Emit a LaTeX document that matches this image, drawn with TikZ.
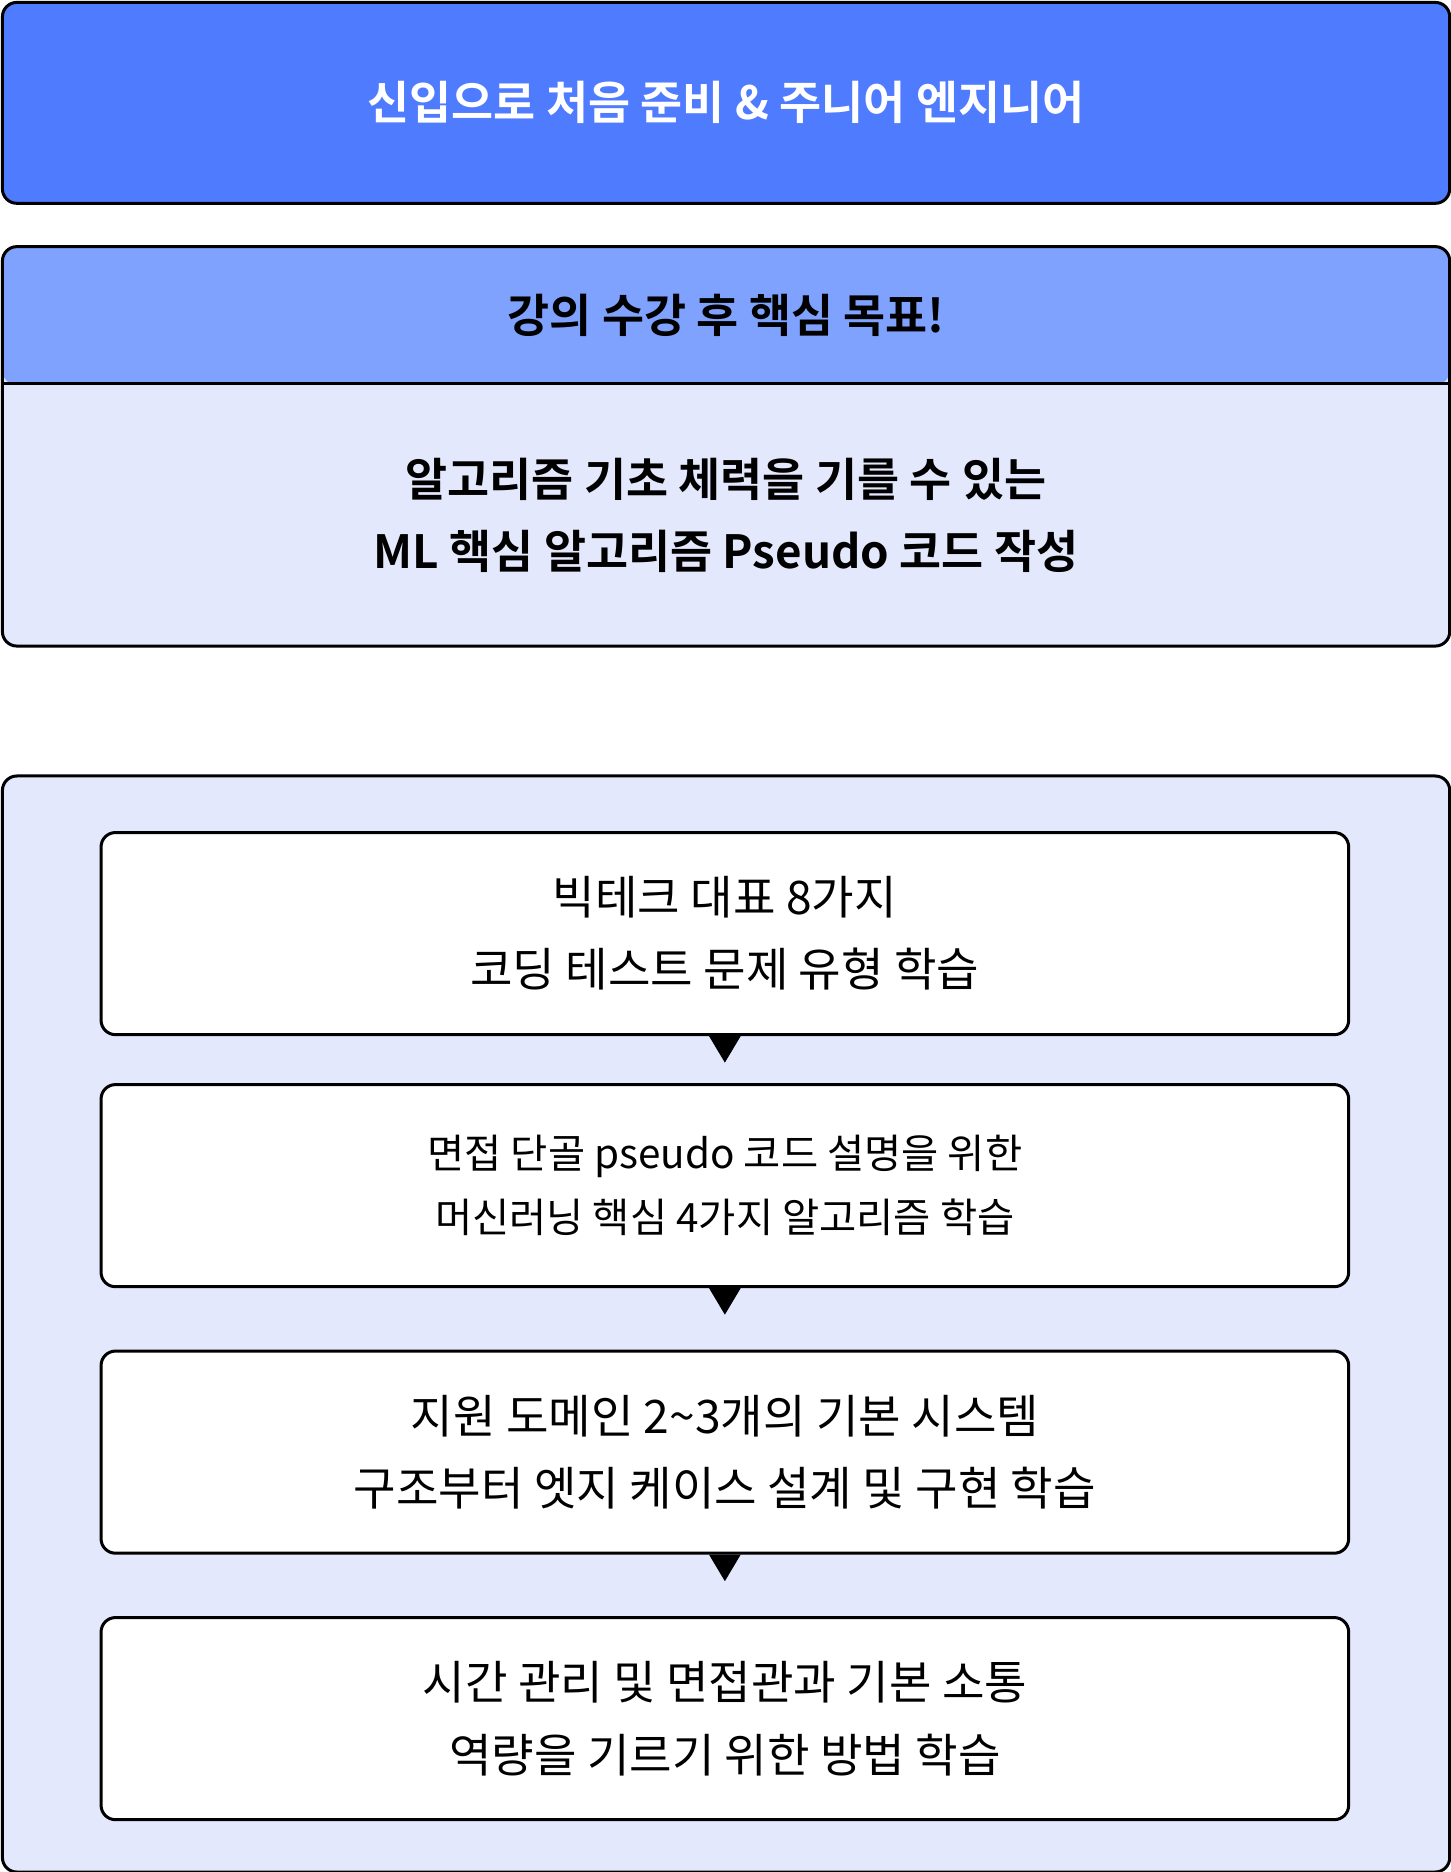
\documentclass[tikz,border=0pt]{standalone}
\usepackage{fontspec}
\setmainfont{Noto Sans CJK KR}[BoldFont={Noto Sans CJK KR Bold}]
\usetikzlibrary{positioning, arrows.meta}
\definecolor{titleblue}{HTML}{4F7BFF}
\definecolor{headblue}{HTML}{7FA2FF}
\definecolor{paleblue}{HTML}{E3E8FC}
\tikzset{%
  box/.style={draw, line width=1.25pt, rounded corners=6pt, inner sep=0pt, align=center},% common frame
  titlebox/.style={box, fill=titleblue, text=white, minimum width=601.5pt, minimum height=83.5pt,
    font=\bfseries\fontsize{19}{30}\selectfont},% top banner
  goalbox/.style={box, fill=paleblue, minimum width=601.5pt, minimum height=166pt,
    path picture={\fill[headblue] (path picture bounding box.north west)
      rectangle ([yshift=-57.5pt]path picture bounding box.north east);}},% header + body frame
  goaltext/.style={align=center, inner sep=0pt, font=\bfseries\fontsize{19}{30}\selectfont},
  panel/.style={box, fill=paleblue, minimum width=601.5pt, minimum height=455.5pt},% frame round the steps
  stepbox/.style={box, fill=white, minimum width=518.5pt, minimum height=84pt,
    font=\fontsize{19.2}{30}\selectfont},% one learning step
  flow/.style={-{Triangle[width=13pt,length=11pt]}, line width=0.5pt, shorten >=#1}% arrow between steps
}
\begin{document}
\begin{tikzpicture}[x=0.5pt, y=-0.5pt]
  \useasboundingbox (0,0) rectangle (1206,1556);
  % Top banner:
  \node[titlebox] (intro) at (603.5,85.5) {신입으로 처음 준비 \& 주니어 엔지니어};
  % Course goal, header and body in one frame:
  \node[goalbox] (goal) at (603.5,371) {};
  \draw[line width=1.25pt] ([yshift=-57.5pt]goal.north west) -- ([yshift=-57.5pt]goal.north east);
  \node[goaltext] (goalhead) at (603.5,262.5) {강의 수강 후 핵심 목표!};
  \node[goaltext] (goalbody) at (603.5,428.5) {알고리즘 기초 체력을 기를 수 있는\\ML 핵심 알고리즘 Pseudo 코드 작성};
  % The four learning steps:
  \node[panel] (steps) at (603.5,1100.5) {};
  \node[stepbox] (s1) at (602.5,776) {빅테크 대표 8가지\\코딩 테스트 문제 유형 학습};
  \node[stepbox, below=19.5pt of s1, font=\fontsize{16.8}{26.5}\selectfont] (s2)
    {면접 단골 pseudo 코드 설명을 위한\\머신러닝 핵심 4가지 알고리즘 학습};
  \node[stepbox, below=25.5pt of s2] (s3) {지원 도메인 2\textasciitilde3개의 기본 시스템\\구조부터 엣지 케이스 설계 및 구현 학습};
  \node[stepbox, below=25.5pt of s3] (s4) {시간 관리 및 면접관과 기본 소통\\역량을 기르기 위한 방법 학습};
  % Arrows between the steps:
  \draw[flow=8.5pt] (s1) -- (s2);
  \draw[flow=14.5pt] (s2) -- (s3);
  \draw[flow=14.5pt] (s3) -- (s4);
\end{tikzpicture}
\end{document}
